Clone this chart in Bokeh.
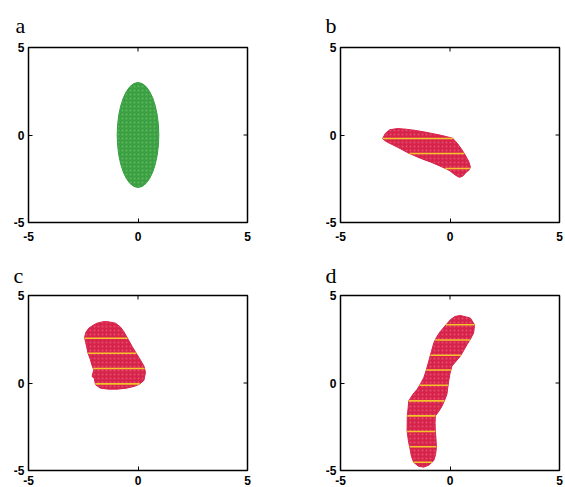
from bokeh.plotting import figure
from bokeh.layouts import column, row
from bokeh.models import FixedTicker
from bokeh.embed import file_html
from bokeh.resources import INLINE

# ---------------- data ----------------
TICKS = [-5, 0, 5]
TICK_LABELS = {-5: "-5", 0: "0", 5: "5"}
PANEL_LETTERS = ["a", "b", "c", "d"]

# panel a: ellipse
ell_x = [0.0]
ell_y = [0.0]
ell_w = [1.9]
ell_h = [6.0]

# panel b outline
b_x = [-3.08, -2.95, -2.75, -2.4, -2.0, -1.63, -1.2, -0.87, -0.4, 0.12, 0.35, 0.55, 0.72, 0.85, 0.93,
       0.88, 0.75, 0.58, 0.43, 0.25, 0.0, -0.18, -0.5, -0.87, -1.25, -1.63, -1.95, -2.24, -2.55, -2.85, -3.0]
b_y = [-0.21, 0.1, 0.3, 0.37, 0.33, 0.27, 0.18, 0.1, -0.02, -0.18, -0.5, -0.85, -1.2, -1.5, -1.82,
       -2.0, -2.12, -2.35, -2.42, -2.3, -2.05, -1.93, -1.75, -1.55, -1.38, -1.18, -1.0, -0.8, -0.6, -0.42, -0.3]
b_stripes = [-0.2, -1.06, -1.91]

# panel c outline
c_x = [-1.41, -1.03, -0.8, -0.65, -0.45, -0.27, -0.08, 0.11, 0.28, 0.34, 0.27, 0.05, -0.19, -0.55, -0.95,
       -1.35, -1.71, -1.94, -2.0, -2.1, -2.02, -2.1, -2.17, -2.28, -2.35, -2.44, -2.38, -2.25, -2.05, -1.87, -1.6]
c_y = [3.51, 3.42, 3.2, 2.94, 2.5, 2.09, 1.7, 1.32, 0.95, 0.6, 0.15, -0.08, -0.2, -0.3, -0.35,
       -0.35, -0.3, -0.1, 0.28, 0.37, 0.75, 1.0, 1.32, 1.7, 2.09, 2.6, 2.9, 3.13, 3.3, 3.42, 3.5]
c_stripes = [2.56, 1.70, 0.83, -0.05]

# panel d outline
d_x = [0.47, 0.93, 1.12, 1.08, 0.93, 0.78, 0.62, 0.47, 0.28, 0.09, 0.0, -0.06, -0.1, -0.14, -0.25, -0.36,
       -0.5, -0.67, -0.68, -0.67, -0.64, -0.62, -0.66, -0.74, -0.95, -1.2, -1.45, -1.66, -1.76, -1.81,
       -1.9, -1.96, -1.95, -1.88, -1.7, -1.5, -1.35, -1.2, -1.08, -0.97, -0.85, -0.74, -0.6, -0.44, -0.2, 0.02, 0.22]
d_y = [3.86, 3.71, 3.33, 2.86, 2.5, 2.2, 1.85, 1.53, 1.25, 0.97, 0.55, 0.11, -0.25, -0.64, -1.0, -1.31,
       -1.6, -1.88, -2.3, -2.73, -3.2, -3.67, -4.1, -4.43, -4.68, -4.81, -4.75, -4.53, -4.2, -3.86,
       -3.3, -2.73, -1.9, -1.02, -0.65, -0.36, -0.05, 0.3, 0.75, 1.25, 1.8, 2.29, 2.65, 2.95, 3.3, 3.62, 3.8]
d_stripes = [3.33, 2.46, 1.59, 0.74, -0.13, -1.02, -1.88, -2.77, -3.64, -4.53]

GREEN = "#3a9f45"
GREEN_SPECK = "#8ccf5c"
RED = "#d7234b"
RED_SPECK = "#ee7a92"
YELLOW = "#f3c22c"

FRAME_W = 219
FRAME_H = 175
TICK_PX = 4
LO, HI = -5, 5


def stripe_segments(xs, ys, levels):
    n = len(xs)
    x0s, x1s, yy = [], [], []
    for y in levels:
        hits = []
        for i in range(n):
            xa, ya = xs[i], ys[i]
            xb, yb = xs[(i + 1) % n], ys[(i + 1) % n]
            if ya != yb and (ya - y) * (yb - y) <= 0:
                t = (y - ya) / (yb - ya)
                hits.append(xa + t * (xb - xa))
        if hits:
            x0s.append(min(hits))
            x1s.append(max(hits))
            yy.append(y)
    return x0s, x1s, yy


def make_panel(letter, left, right, top, bottom, title_offset, title_standoff, x_standoff):
    p = figure(frame_width=FRAME_W, frame_height=FRAME_H, x_range=(LO, HI), y_range=(LO, HI),
               output_backend="svg", toolbar_location=None, title=letter,
               min_border_left=left, min_border_right=right,
               min_border_top=top, min_border_bottom=bottom,
               background_fill_color="white", border_fill_color="white",
               outline_line_color="black", outline_line_width=1.5)
    p.grid.visible = False
    p.title.align = "left"
    p.title.offset = title_offset
    p.title.standoff = title_standoff
    p.title.text_font = "Liberation Serif"
    p.title.text_font_size = "22px"
    p.title.text_font_style = "normal"
    p.title.text_color = "black"
    for ax, so in ((p.xaxis, x_standoff), (p.yaxis, 4)):
        ax.ticker = FixedTicker(ticks=TICKS)
        ax.major_label_overrides = TICK_LABELS
        ax.major_tick_in = TICK_PX
        ax.major_tick_out = 0
        ax.major_tick_line_color = "black"
        ax.minor_tick_line_color = None
        ax.axis_line_color = None
        ax.major_label_standoff = so
        ax.major_label_text_font = "Liberation Sans"
        ax.major_label_text_font_size = "12px"
        ax.major_label_text_font_style = "bold"
        ax.major_label_text_color = "black"
    # inward tick marks on the top and right edges of the box
    dx = (HI - LO) * TICK_PX / FRAME_W
    dy = (HI - LO) * TICK_PX / FRAME_H
    p.segment(x0=TICKS, y0=[HI] * len(TICKS), x1=TICKS, y1=[HI - dy] * len(TICKS), line_color="black")
    p.segment(x0=[HI] * len(TICKS), y0=TICKS, x1=[HI - dx] * len(TICKS), y1=TICKS, line_color="black")
    return p


pa = make_panel(PANEL_LETTERS[0], 28, 45, 46, 30, -13, 20, 9)
pb = make_panel(PANEL_LETTERS[1], 48, 5, 46, 30, -15, 20, 9)
pc = make_panel(PANEL_LETTERS[2], 28, 45, 41, 19, -15, 16, 5)
pd = make_panel(PANEL_LETTERS[3], 48, 5, 41, 19, -15, 16, 5)

pa.ellipse(x=ell_x, y=ell_y, width=ell_w, height=ell_h, fill_color=GREEN, line_color=GREEN,
           hatch_pattern="dot", hatch_color=GREEN_SPECK, hatch_scale=4, hatch_alpha=0.5)

for p, xs, ys, levels in ((pb, b_x, b_y, b_stripes), (pc, c_x, c_y, c_stripes), (pd, d_x, d_y, d_stripes)):
    p.patch(xs, ys, fill_color=RED, line_color=RED, line_width=1,
            hatch_pattern="dot", hatch_color=RED_SPECK, hatch_scale=4, hatch_alpha=0.5)
    x0s, x1s, yy = stripe_segments(xs, ys, levels)
    p.segment(x0=x0s, y0=yy, x1=x1s, y1=yy, line_color=YELLOW, line_width=1.6)

layout = column(row(pa, pb), row(pc, pd))
open("out.html", "w").write(file_html(layout, INLINE))
